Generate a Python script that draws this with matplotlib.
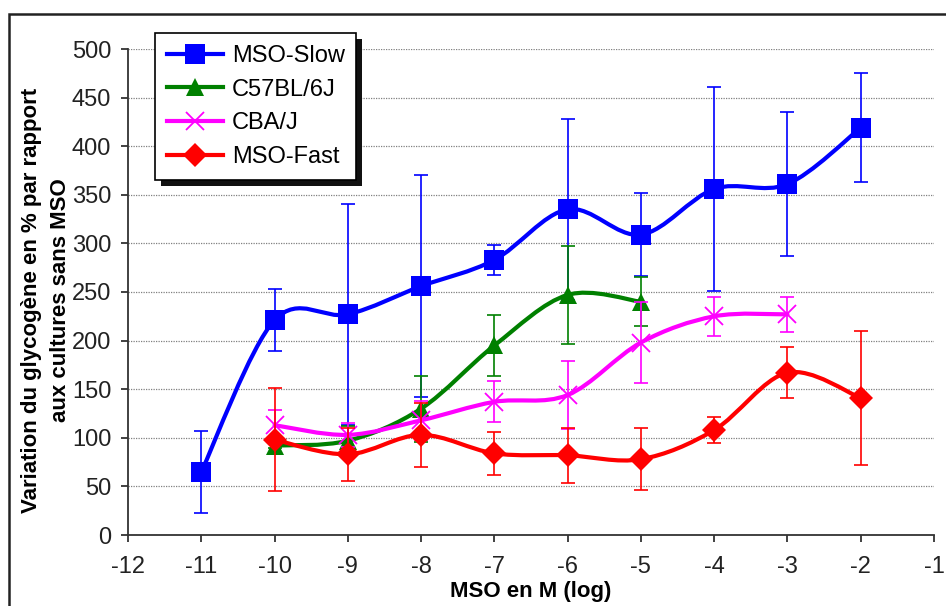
import matplotlib
matplotlib.use("Agg")
import matplotlib.pyplot as plt
from matplotlib.path import Path
from matplotlib.patches import PathPatch, Rectangle
from matplotlib.lines import Line2D

plt.rcParams['font.family'] = ['Liberation Sans', 'DejaVu Sans']
plt.rcParams['axes.unicode_minus'] = False

# données
x_slow = [-11, -10, -9, -8, -7, -6, -5, -4, -3, -2]
y_slow = [65, 221, 227, 256, 283, 335, 309, 356, 361, 419]
e_slow = [42, 32, 114, 114, 15, 93, 43, 105, 74, 56]

x_c57 = [-10, -9, -8, -7, -6, -5]
y_c57 = [92, 97, 130, 195, 247, 240]
e_c57 = [2, 15, 34, 31, 50, 25]

x_cba = [-10, -9, -8, -7, -6, -5, -4, -3]
y_cba = [113, 103, 118, 137, 144, 198, 225, 227]
e_cba = [16, 12, 20, 21, 35, 42, 20, 18]

x_fast = [-10, -9, -8, -7, -6, -5, -4, -3, -2]
y_fast = [98, 83, 103, 84, 82, 78, 108, 167, 141]
e_fast = [53, 27, 33, 22, 28, 32, 13, 26, 69]

labels = ['MSO-Slow', 'C57BL/6J', 'CBA/J', 'MSO-Fast']
colors = ['#0000FF', '#008000', '#FF00FF', '#FF0000']
markers = ['s', '^', 'x', 'D']
msizes = [14, 13, 13, 12]


def smooth_path(xs, ys):
    # courbe lissée façon Excel (Bézier de Catmull-Rom)
    pts = list(zip(xs, ys))
    n = len(pts)
    verts = [pts[0]]
    codes = [Path.MOVETO]
    for i in range(n - 1):
        p0 = pts[i - 1] if i > 0 else pts[i]
        p1 = pts[i]
        p2 = pts[i + 1]
        p3 = pts[i + 2] if i + 2 < n else p2
        c1 = (p1[0] + (p2[0] - p0[0]) / 6, p1[1] + (p2[1] - p0[1]) / 6)
        c2 = (p2[0] - (p3[0] - p1[0]) / 6, p2[1] - (p3[1] - p1[1]) / 6)
        verts += [c1, c2, p2]
        codes += [Path.CURVE4] * 3
    return Path(verts, codes)


fig = plt.figure(figsize=(9.46, 6.06), dpi=100)
ax = fig.add_axes([128 / 946, 1 - 535 / 606, 806 / 946, 486 / 606])

series = [(x_slow, y_slow, e_slow), (x_c57, y_c57, e_c57),
          (x_cba, y_cba, e_cba), (x_fast, y_fast, e_fast)]

for k, (xs, ys, es) in enumerate(series):
    z = 3 + k * 3
    ax.add_patch(PathPatch(smooth_path(xs, ys), facecolor='none', edgecolor=colors[k],
                           lw=3, zorder=z, capstyle='round', joinstyle='round'))
    ax.errorbar(xs, ys, yerr=es, fmt='none', ecolor=colors[k], elinewidth=1.2,
                capsize=5, capthick=1.2, zorder=z + 1)
    if markers[k] == 'x':
        ax.plot(xs, ys, ls='none', marker='x', ms=msizes[k], mew=1.3,
                color=colors[k], zorder=z + 2)
    else:
        ax.plot(xs, ys, ls='none', marker=markers[k], ms=msizes[k], mew=0,
                color=colors[k], zorder=z + 2)

ax.set_xlim(-12, -1)
ax.set_ylim(0, 500)
ax.set_xticks(range(-12, 0))
ax.set_yticks(range(0, 501, 50))
ax.yaxis.grid(True, linestyle=(0, (1, 1)), color='#808080', lw=0.9)
ax.set_axisbelow(True)

for s in ['top', 'right']:
    ax.spines[s].set_visible(False)
for s in ['left', 'bottom']:
    ax.spines[s].set_color('#333333')
    ax.spines[s].set_linewidth(1.3)
ax.tick_params(direction='out', length=5, width=1.3, color='#333333',
               labelsize=17, labelcolor='#222222')
ax.tick_params(axis='x', pad=10)
ax.tick_params(axis='y', pad=7)

fig.text(46 / 946, 1 - 300 / 606,
         'Variation du glycogène en % par rapport\naux cultures sans MSO',
         rotation=90, ha='center', va='center', fontsize=16, fontweight='bold',
         linespacing=1.45)
fig.text(531 / 946, 1 - 592 / 606, 'MSO en M (log)', ha='center', va='center',
         fontsize=16, fontweight='bold')

handles = []
for k in range(4):
    if markers[k] == 'x':
        h = Line2D([], [], color=colors[k], lw=3, marker='x', ms=msizes[k], mew=1.3)
    else:
        h = Line2D([], [], color=colors[k], lw=3, marker=markers[k], ms=msizes[k], mew=0)
    handles.append(h)

leg = fig.legend(handles, labels, loc='upper left',
                 bbox_to_anchor=(155 / 946, 1 - 33 / 606), borderaxespad=0,
                 fontsize=17, frameon=True, fancybox=False, framealpha=1,
                 edgecolor='black', handlelength=2.4, handletextpad=0.35,
                 labelspacing=0.5, borderpad=0.5, numpoints=1)
leg.get_frame().set_linewidth(1.2)
leg.set_zorder(20)

# ombre noire du cadre de légende
fig.canvas.draw()
bb = leg.get_window_extent().transformed(fig.transFigure.inverted())
fig.patches.append(Rectangle((bb.x0 + 6 / 946, bb.y0 - 6 / 606), bb.width, bb.height,
                             transform=fig.transFigure, facecolor='#111111',
                             edgecolor='none', zorder=19))

# cadre extérieur du graphique
fig.patches.append(Rectangle((9 / 946, -0.1), 1.2, 1 - 14 / 606 + 0.1,
                             transform=fig.transFigure, fill=False,
                             edgecolor='#222222', lw=1.8, zorder=1))

fig.savefig('out.png', dpi=100)
